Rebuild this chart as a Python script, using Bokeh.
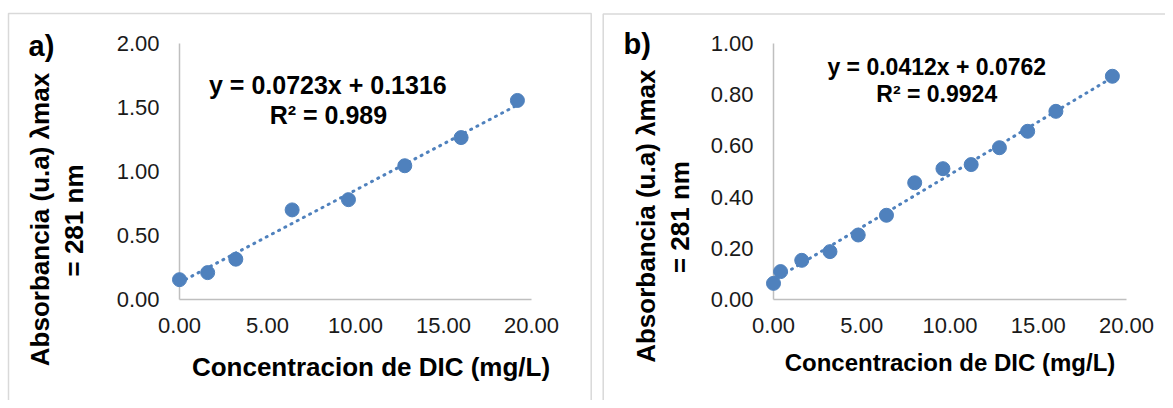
import math
from bokeh.plotting import figure
from bokeh.models import Range1d, FixedTicker, NumeralTickFormatter, Label
from bokeh.core.properties import value
from bokeh.layouts import row
from bokeh.embed import file_html
from bokeh.resources import INLINE

# ---------------- data ----------------
conc_a = [0.0, 1.6, 3.2, 6.4, 9.6, 12.8, 16.0, 19.2]
abs_a = [0.155, 0.21, 0.315, 0.70, 0.78, 1.045, 1.265, 1.555]
slope_a = 0.0723
intercept_a = 0.1316
r2_a = "0.989"

conc_b = [0.0, 0.4, 1.6, 3.2, 4.8, 6.4, 8.0, 9.6, 11.2, 12.8, 14.4, 16.0, 19.2]
abs_b = [0.063, 0.109, 0.153, 0.187, 0.252, 0.329, 0.456, 0.511, 0.527, 0.593, 0.657, 0.735, 0.872]
slope_b = 0.0412
intercept_b = 0.0762
r2_b = "0.9924"

x_ticks = [0, 5, 10, 15, 20]
y_ticks_a = [0, 0.5, 1.0, 1.5, 2.0]
y_ticks_b = [0, 0.2, 0.4, 0.6, 0.8, 1.0]

x_title = "Concentracion de DIC (mg/L)"
y_title_1 = "Absorbancia (u.a) \u03bbmax"
y_title_2 = "= 281 nm"

BLUE = "#4f81bd"
FONT = "Liberation Sans"
H = 400


def txt(p, x, y, s, size, align="center", angle=0.0):
    p.text(x=[x], y=[y], text=[s], x_range_name="px", y_range_name="px",
           angle=angle, text_font=value(FONT), text_font_style="bold",
           text_font_size=value(size), text_align=align, text_baseline="middle",
           text_color="black", level="overlay")


def panel(tag, conc, ab, slope, intercept, r2, yticks, width, mb_left, mb_right,
          mb_top, mb_bottom, box, eq_pos, eq_size, xt_pos, xt_size, yt_pos, tag_pos):
    p = figure(width=width, height=H, x_range=Range1d(0, 20),
               y_range=Range1d(0, yticks[-1]), output_backend="svg",
               toolbar_location=None, tools="",
               min_border_left=mb_left, min_border_right=mb_right,
               min_border_top=mb_top, min_border_bottom=mb_bottom)
    fw = width - mb_left - mb_right
    fh = H - mb_top - mb_bottom
    p.extra_x_ranges = {"px": Range1d(0, fw)}
    p.extra_y_ranges = {"px": Range1d(0, fh)}
    p.outline_line_color = None
    p.grid.visible = False
    p.background_fill_color = "white"
    p.border_fill_color = "white"
    for ax, ticks in ((p.xaxis, x_ticks), (p.yaxis, yticks)):
        ax.ticker = FixedTicker(ticks=ticks)
        ax.formatter = NumeralTickFormatter(format="0.00")
        ax.axis_line_color = "#bfbfbf"
        ax.axis_line_width = 1.5
        ax.major_tick_line_color = None
        ax.minor_tick_line_color = None
        ax.major_tick_out = 0
        ax.major_tick_in = 0
        ax.major_label_text_font = FONT
        ax.major_label_text_font_size = "22px"
        ax.major_label_text_color = "#1a1a1a"
    p.xaxis.major_label_standoff = 18
    p.yaxis.major_label_standoff = 20

    # chart-area border
    p.quad(left=[box[0]], right=[box[1]], top=[box[2]], bottom=[box[3]],
           x_range_name="px", y_range_name="px", fill_alpha=0,
           line_color="#d9d9d9", line_width=1.5, level="overlay")

    # trendline and points
    xs = [min(conc), max(conc)]
    ys = [slope * x + intercept for x in xs]
    p.line(xs, ys, line_color=BLUE, line_width=3, line_dash="1 6",
           line_cap="round", level="overlay")
    p.scatter(conc, ab, size=14, fill_color=BLUE, line_color=BLUE, level="overlay")

    # equation
    p.add_layout(Label(x=eq_pos[0], y=eq_pos[1], text=f"y = {slope}x + {intercept}",
                       text_font=FONT, text_font_style="bold", text_font_size=eq_size,
                       text_align="center", text_baseline="middle", text_color="black"))
    p.add_layout(Label(x=eq_pos[2], y=eq_pos[3], text=f"R\u00b2 = {r2}",
                       text_font=FONT, text_font_style="bold", text_font_size=eq_size,
                       text_align="center", text_baseline="middle", text_color="black"))

    txt(p, xt_pos[0], xt_pos[1], x_title, xt_size)
    txt(p, yt_pos[0], yt_pos[1], y_title_1, "26px", angle=math.pi / 2)
    txt(p, yt_pos[2], yt_pos[3], y_title_2, "26px", angle=math.pi / 2)
    txt(p, tag_pos[0], tag_pos[1], tag, "29px", align="left")
    return p


pa = panel("a)", conc_a, abs_a, slope_a, intercept_a, r2_a, y_ticks_a,
           width=596, mb_left=179, mb_right=65, mb_top=43, mb_bottom=101,
           box=(-171, 411.7, 286, -300),
           eq_pos=(8.43, 1.674, 8.46, 1.44), eq_size="25px",
           xt_pos=(191.5, -67.7), xt_size="26px",
           yt_pos=(-139.5, 80, -105.6, 79), tag_pos=(-151, 254))

pb = panel("b)", conc_b, abs_b, slope_b, intercept_b, r2_b, y_ticks_b,
           width=569, mb_left=177, mb_right=39, mb_top=43, mb_bottom=96,
           box=(-170.3, 800, 291, -300),
           eq_pos=(9.25, 0.909, 9.25, 0.803), eq_size="23px",
           xt_pos=(176.5, -64), xt_size="24px",
           yt_pos=(-127.2, 85, -94, 84), tag_pos=(-150, 261))

layout = row(pa, pb, spacing=0)
open("out.html", "w").write(file_html(layout, INLINE))
